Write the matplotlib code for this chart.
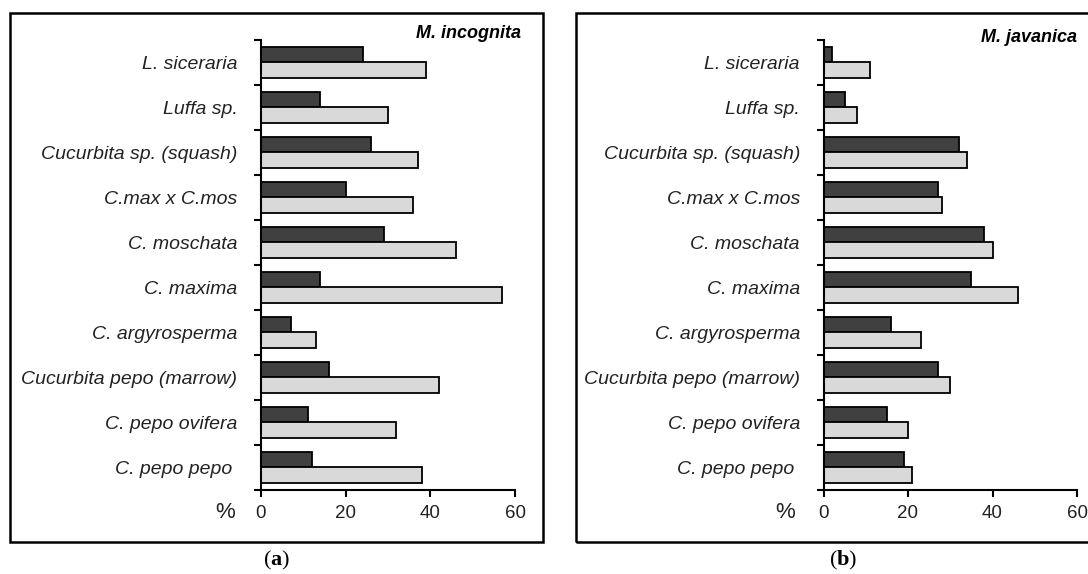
import numpy as np
import matplotlib
matplotlib.use("Agg")
import matplotlib.pyplot as plt
from matplotlib.patches import Rectangle

# categories top to bottom
categories = ["L. siceraria", "Luffa sp.", "Cucurbita sp. (squash)", "C.max x C.mos",
              "C. moschata", "C. maxima", "C. argyrosperma", "Cucurbita pepo (marrow)",
              "C. pepo ovifera", "C. pepo pepo "]

incognita_dark = [24, 14, 26, 20, 29, 14, 7, 16, 11, 12]
incognita_light = [39, 30, 37, 36, 46, 57, 13, 42, 32, 38]

javanica_dark = [2, 5, 32, 27, 38, 35, 16, 27, 15, 19]
javanica_light = [11, 8, 34, 28, 40, 46, 23, 30, 20, 21]

xticks = [0, 20, 40, 60]

W, H = 1088, 574
fig = plt.figure(figsize=(W / 100, H / 100), dpi=100)
plt.rcParams['font.family'] = ['Liberation Sans', 'DejaVu Sans']
plt.rcParams['mathtext.fontset'] = 'custom'
plt.rcParams['mathtext.rm'] = 'Liberation Serif'
plt.rcParams['mathtext.bf'] = 'Liberation Serif:bold'


def px_axes(x0, y0, x1, y1):
    # pixel box (top-left origin) -> figure axes
    return fig.add_axes([x0 / W, 1 - y1 / H, (x1 - x0) / W, (y1 - y0) / H])


def draw_panel(ax, dark, light, title, title_x, title_y, pct_x):
    n = len(categories)
    y = np.arange(n)
    h = 0.34
    ax.barh(y - h / 2, dark, height=h, color="#404040", edgecolor="black", linewidth=1.3)
    ax.barh(y + h / 2, light, height=h, color="#d9d9d9", edgecolor="black", linewidth=1.3)
    ax.set_ylim(n - 0.5, -0.5)
    ax.set_xlim(0, 60)
    ax.spines["top"].set_visible(False)
    ax.spines["right"].set_visible(False)
    ax.spines["left"].set_linewidth(1.5)
    ax.spines["bottom"].set_linewidth(1.5)
    ax.set_yticks(y)
    ax.set_yticklabels(categories, fontstyle="italic", fontsize=14, color="#222222")
    ax.tick_params(axis="y", which="major", length=0, pad=17)
    ax.set_yticks(np.arange(n + 1) - 0.5, minor=True)
    ax.tick_params(axis="y", which="minor", length=5, width=1.5, direction="out")
    ax.set_xticks(xticks)
    ax.tick_params(axis="x", length=5, width=1.5, labelsize=13.5, pad=6, labelcolor="#222222")
    fig.text(title_x / W, 1 - title_y / H, title, ha="right", va="center",
             fontsize=13, fontweight="bold", fontstyle="italic")
    fig.text(pct_x / W, 1 - 512 / H, "%", ha="center", va="center", fontsize=16, color="#222222")


# panel frames
fig.add_artist(Rectangle((10 / W, 1 - 541.5 / H), (543 - 10) / W, (541.5 - 12.5) / H,
                         transform=fig.transFigure, fill=False, linewidth=1.8, edgecolor="black"))
fig.add_artist(Rectangle((576 / W, 1 - 541.5 / H), (1095 - 576) / W, (541.5 - 12.5) / H,
                         transform=fig.transFigure, fill=False, linewidth=1.8, edgecolor="black"))

ax1 = px_axes(261, 40, 515, 490)
draw_panel(ax1, incognita_dark, incognita_light, "M. incognita", 521, 33, 225)

ax2 = px_axes(823.5, 40, 1077, 490)
draw_panel(ax2, javanica_dark, javanica_light, "M. javanica", 1077, 37, 785)

fig.text(277 / W, 1 - 560 / H, r"($\mathbf{a}$)", ha="center", va="center", fontsize=16,
         family="Liberation Serif")
fig.text(843 / W, 1 - 560 / H, r"($\mathbf{b}$)", ha="center", va="center", fontsize=16,
         family="Liberation Serif")

fig.savefig("out.png", dpi=100)
